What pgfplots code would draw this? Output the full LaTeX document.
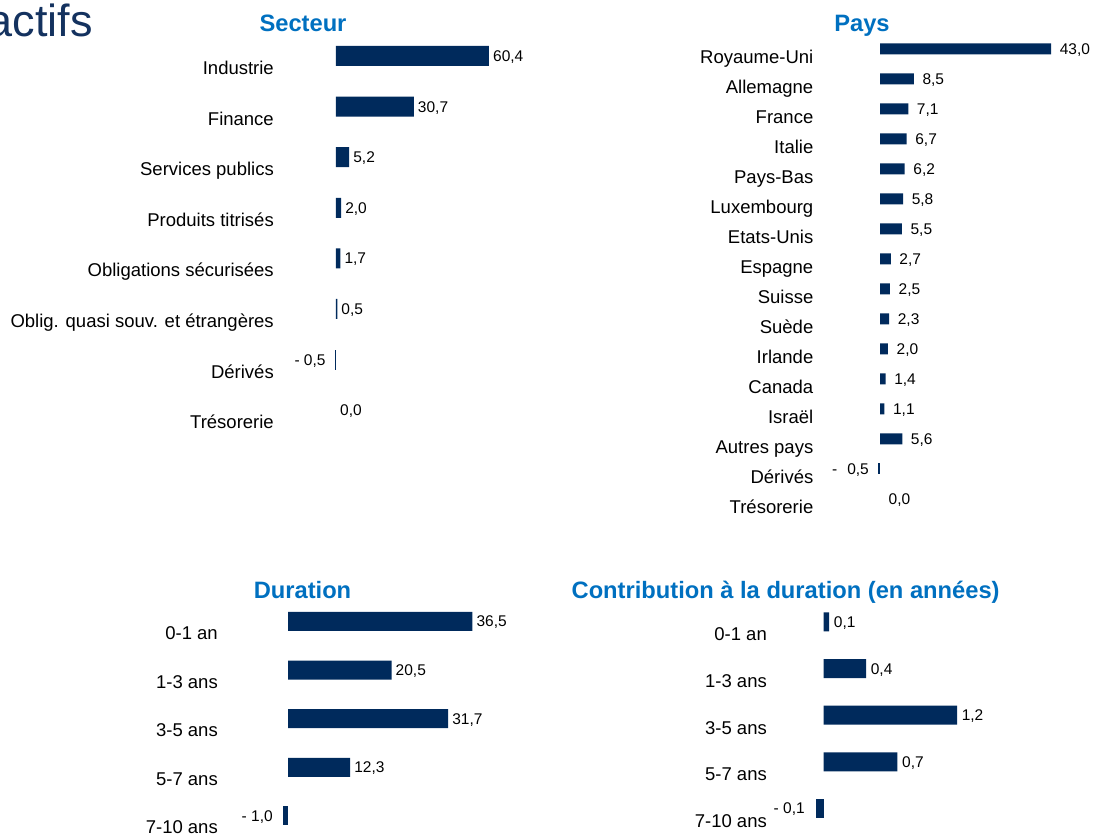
\documentclass[border=0pt]{standalone}
\usepackage{pgfplots}
\pgfplotsset{compat=1.18}
\usepackage{fontspec}
\setmainfont{Liberation Sans}
\definecolor{barc}{HTML}{002A5C}
\definecolor{titc}{HTML}{0070C0}
\definecolor{headc}{HTML}{14325F}
\newcommand\lab{\fontsize{18.5}{22}\selectfont}
\newcommand\vlab{\fontsize{15.5}{18}\selectfont}
\newcommand\tit{\fontsize{23.7}{28}\selectfont\bfseries}
\pgfplotsset{
  hbar/.style={
    xbar, y dir=reverse, enlargelimits=false, clip=false,
    axis line style={draw=none}, tick style={draw=none}, major tick length=0pt,
    xtick=\empty, anchor=origin,
    yticklabel style={font=\lab, anchor=base east, inner sep=0pt, yshift=-#1, text=black},
  },
  posbar/.style 2 args={fill=barc, draw=none, bar shift=0pt, bar width=#1,
    point meta=x,
    nodes near coords={\pgfmathprintnumber[fixed,fixed zerofill,precision=1,use comma,assume math mode=true]{\pgfplotspointmeta}},
    nodes near coords style={anchor=base west, inner sep=0pt, xshift=#2, yshift=-5.5pt, font=\vlab, text=black}},
  negbar/.style n args={3}{fill=barc, draw=none, bar shift=0pt, bar width=#1,
    nodes near coords={#2},
    nodes near coords style={anchor=base east, inner sep=0pt, xshift=-#3, yshift=-5.5pt, font=\vlab, text=black}},
}
\begin{document}
\begin{tikzpicture}[x=1pt,y=1pt]
\node[anchor=base east, inner sep=0pt, text=headc, font=\fontsize{45}{50}\selectfont] at (93,800) {actifs};
\node[anchor=base, inner sep=0pt, text=titc, font=\tit] at (303,805) {Secteur};
\node[anchor=base, inner sep=0pt, text=titc, font=\tit] at (862,805) {Pays};
\node[anchor=base, inner sep=0pt, text=titc, font=\tit] at (302.5,238) {Duration};
\node[anchor=base, inner sep=0pt, text=titc, font=\tit] at (785.6,238) {Contribution à la duration (en années)};

% Secteur
\begin{axis}[hbar=18.5pt, at={(336pt,781pt)}, x=2.533pt, y=50.6pt,
  xmin=-24.48, xmax=75, ymin=-0.5, ymax=7.5, ytick={0,...,7},
  yticklabels={{Industrie},{Finance},{Services publics},{Produits titrisés},{Obligations sécurisées},{Oblig. quasi souv. et étrangères},{Dérivés},{Trésorerie}}]
\addplot[posbar={20pt}{4pt}] coordinates {(60.4,0) (30.7,1) (5.2,2) (2.0,3) (1.7,4) (0.5,5)};
\addplot[posbar={20pt}{4pt}, fill=none] coordinates {(0.0,7)};
\addplot[negbar={20pt}{- 0,5}{9pt}] coordinates {(-0.5,6)};
\end{axis}

% Pays
\begin{axis}[hbar=15pt, at={(880pt,788.2pt)}, x=3.98pt, y=30pt,
  xmin=-16.71, xmax=50, ymin=-0.5, ymax=15.5, ytick={0,...,15},
  yticklabels={{Royaume-Uni},{Allemagne},{France},{Italie},{Pays-Bas},{Luxembourg},{Etats-Unis},{Espagne},{Suisse},{Suède},{Irlande},{Canada},{Israël},{Autres pays},{Dérivés},{Trésorerie}}]
\addplot[posbar={11pt}{8.5pt}] coordinates {(43.0,0) (8.5,1) (7.1,2) (6.7,3) (6.2,4) (5.8,5) (5.5,6) (2.7,7) (2.5,8) (2.3,9) (2.0,10) (1.4,11) (1.1,12) (5.6,13)};
\addplot[posbar={11pt}{8.5pt}, fill=none] coordinates {(0.0,15)};
\addplot[negbar={11pt}{-\hspace{10pt}0,5}{9pt}] coordinates {(-0.5,14)};
\end{axis}

% Duration
\begin{axis}[hbar=18pt, at={(288pt,215.5pt)}, x=5.05pt, y=48.6pt,
  xmin=-13.86, xmax=45, ymin=-0.5, ymax=4.5, ytick={0,...,4},
  yticklabels={{0-1 an},{1-3 ans},{3-5 ans},{5-7 ans},{7-10 ans}}]
\addplot[posbar={19pt}{4pt}] coordinates {(36.5,0) (20.5,1) (31.7,2) (12.3,3)};
\addplot[negbar={19pt}{- 1,0}{10pt}] coordinates {(-1.0,4)};
\end{axis}

% Contribution
\begin{axis}[hbar=19pt, at={(823.5pt,215pt)}, x=108pt, y=46.6pt,
  xmin=-0.523, xmax=1.5, ymin=-0.5, ymax=4.5, ytick={0,...,4},
  yticklabels={{0-1 an},{1-3 ans},{3-5 ans},{5-7 ans},{7-10 ans}}]
\addplot[posbar={19pt}{4.5pt}] coordinates {(0.053,0) (0.395,1) (1.237,2) (0.685,3)};
\addplot[negbar={19pt}{- 0,1}{11pt}] coordinates {(-0.07,4)};
\end{axis}
\pgfresetboundingbox
\path[use as bounding box] (0,0) rectangle (1093,837);
\end{tikzpicture}
\end{document}
